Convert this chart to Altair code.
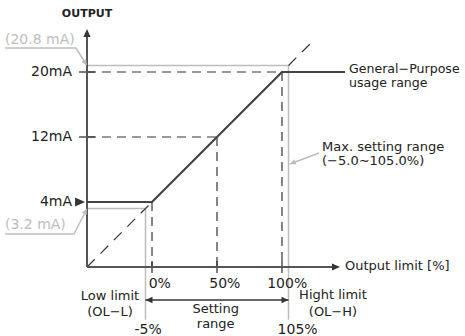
import altair as alt
import pandas as pd

# Schematic scales: horizontal in % of the output-limit setting, vertical in mA.
X_DOMAIN = [-116.923, 240.769]
Y_DOMAIN = [-12.492, 28.862]

ORIGIN_PCT = -50
ORIGIN_MA = -4
X_AXIS_END = 144.6
Y_AXIS_END = 25.3

# Output characteristic (general-purpose usage range)
curve_pct = [-50, 0, 100, 148.5]
curve_ma = [4, 4, 20, 20]

# Guide points on the characteristic
guide_pct = [0, 50, 100]
guide_ma = [4, 12, 20]
tick_ma = [12, 20]

# Proportional reference line through the origin
ref_pct = [-50, 121.5]
ref_ma = [-4, 23.44]

# Max. setting range limits
limit_pct = [-5, 105]
limit_ma = [3.2, 20.8]
limit_floor = -10.5
setting_arrow_ma = -8.06

DARK = "#353535"
GRAY = "#bdbdbd"
TEXT = "#222222"
FONT = "DejaVu Sans"

x_enc = dict(scale=alt.Scale(domain=X_DOMAIN, nice=False, zero=False), axis=None)
y_enc = dict(scale=alt.Scale(domain=Y_DOMAIN, nice=False, zero=False), axis=None)


def X(field="x"):
    return alt.X(f"{field}:Q", **x_enc)


def Y(field="y"):
    return alt.Y(f"{field}:Q", **y_enc)


# ---- line segments -------------------------------------------------------
axes_df = pd.DataFrame({
    "x": [ORIGIN_PCT, ORIGIN_PCT], "y": [ORIGIN_MA, ORIGIN_MA],
    "x2": [X_AXIS_END - 4, ORIGIN_PCT], "y2": [ORIGIN_MA, Y_AXIS_END - 0.6],
})

dash_rows = []
for p, m in zip(guide_pct[1:], guide_ma[1:]):
    dash_rows.append({"x": ORIGIN_PCT, "y": m, "x2": p, "y2": m})
for p, m in zip(guide_pct, guide_ma):
    dash_rows.append({"x": p, "y": m, "x2": p, "y2": ORIGIN_MA})
dash_df = pd.DataFrame(dash_rows)

tick_rows = [{"x": ORIGIN_PCT - 6.2, "y": m, "x2": ORIGIN_PCT + 6.2, "y2": m} for m in tick_ma]
tick_rows += [{"x": p, "y": ORIGIN_MA + 0.74, "x2": p, "y2": ORIGIN_MA - 0.74} for p in guide_pct]
tick_df = pd.DataFrame(tick_rows)

ref_df = pd.DataFrame({"x": [ref_pct[0]], "y": [ref_ma[0]], "x2": [ref_pct[1]], "y2": [ref_ma[1]]})

curve_df = pd.DataFrame({"x": curve_pct, "y": curve_ma, "o": range(len(curve_pct))})

gray_rows = [
    # upper / lower limit frames
    ("hi", 0, ORIGIN_PCT, limit_ma[1]), ("hi", 1, limit_pct[1], limit_ma[1]), ("hi", 2, limit_pct[1], limit_floor),
    ("lo", 0, ORIGIN_PCT, limit_ma[0]), ("lo", 1, limit_pct[0], limit_ma[0]), ("lo", 2, limit_pct[0], limit_floor),
    # leaders for the limit values
    ("l20", 0, -113.1, 22.95), ("l20", 1, -58.5, 22.95), ("l20", 2, ORIGIN_PCT, limit_ma[1]),
    ("l3", 0, -113.1, 0.06), ("l3", 1, -60.0, 0.06), ("l3", 2, ORIGIN_PCT, limit_ma[0]),
    ("lmax", 0, 128.5, 10.03), ("lmax", 1, 106.0, 8.68),
]
gray_df = pd.DataFrame(gray_rows, columns=["g", "o", "x", "y"])

span_df = pd.DataFrame({"x": [limit_pct[0]], "x2": [limit_pct[1]], "y": [setting_arrow_ma]})

# ---- arrowheads (tip at the point, pointing up before rotation) -------------
HEAD = "M0,0L-0.45,1L0.45,1Z"
heads_df = pd.DataFrame([
    {"x": ORIGIN_PCT, "y": Y_AXIS_END, "a": 0, "s": 256, "c": DARK},
    {"x": X_AXIS_END, "y": ORIGIN_MA, "a": 90, "s": 256, "c": DARK},
    {"x": -51.5, "y": 4, "a": 90, "s": 400, "c": DARK},
    {"x": limit_pct[0], "y": setting_arrow_ma, "a": 270, "s": 196, "c": DARK},
    {"x": limit_pct[1], "y": setting_arrow_ma, "a": 90, "s": 196, "c": DARK},
    {"x": ORIGIN_PCT, "y": limit_ma[1], "a": 147.8, "s": 144, "c": GRAY},
    {"x": ORIGIN_PCT, "y": limit_ma[0], "a": 27.0, "s": 144, "c": GRAY},
    {"x": 106.0, "y": 8.68, "a": 249.4, "s": 144, "c": GRAY},
])

# ---- labels ---------------------------------------------------------------
labels = [
    # text, x, y, align, size, color
    ("0%", 6, -6.09, "center", 14, TEXT),
    ("50%", 56, -6.09, "center", 14, TEXT),
    ("100%", 104, -6.09, "center", 14, TEXT),
    ("-5%", -3, -11.75, "center", 14, TEXT),
    ("105%", 112, -11.75, "center", 14, TEXT),
    ("Low limit", -32.3, -7.6, "center", 13, TEXT),
    ("(OL−L)", -32.3, -9.54, "center", 13, TEXT),
    ("Hight limit", 139.2, -7.45, "center", 13, TEXT),
    ("(OL−H)", 139.2, -9.54, "center", 13, TEXT),
    ("Setting", 49, -9.15, "center", 13, TEXT),
    ("range", 49, -11.0, "center", 13, TEXT),
    ("20mA", -61.5, 20, "right", 14, TEXT),
    ("12mA", -61.5, 12, "right", 14, TEXT),
    ("4mA", -61.5, 4, "right", 14, TEXT),
    ("Output limit [%]", 148.5, -3.88, "left", 13, TEXT),
    ("General−Purpose", 151.5, 20.37, "left", 12.6, TEXT),
    ("usage range", 151.5, 18.6, "left", 12.6, TEXT),
    ("Max. setting range", 130.8, 10.77, "left", 13, TEXT),
    ("(−5.0∼105.0%)", 130.8, 9.05, "left", 13, TEXT),
    ("(20.8 mA)", -113.1, 24.0, "left", 14, GRAY),
    ("(3.2 mA)", -113.1, 1.23, "left", 14, GRAY),
]
labels_df = pd.DataFrame(labels, columns=["t", "x", "y", "align", "size", "color"])
title_df = pd.DataFrame({"t": ["OUTPUT"], "x": [ORIGIN_PCT], "y": [27.14]})


def rules(df, **mark):
    return alt.Chart(df).mark_rule(**mark).encode(
        x=X(), y=Y(), x2="x2:Q", y2="y2:Q"
    )


gray_lines = alt.Chart(gray_df).mark_line(color=GRAY, strokeWidth=1.5).encode(
    x=X(), y=Y(), detail="g:N", order="o:Q"
)
ref_line = rules(ref_df, color=DARK, strokeWidth=1.2, strokeDash=[11, 8])
dash_lines = rules(dash_df, color=DARK, strokeWidth=1.2, strokeDash=[9, 6])
ticks = rules(tick_df, color=DARK, strokeWidth=1.3)
axes = rules(axes_df, color="#555555", strokeWidth=2)
curve = alt.Chart(curve_df).mark_line(color="#444444", strokeWidth=2.2).encode(
    x=X(), y=Y(), order="o:Q"
)
span = alt.Chart(span_df).mark_rule(color=DARK, strokeWidth=1.5).encode(
    x=X(), x2="x2:Q", y=Y()
)
heads = alt.Chart(heads_df).mark_point(shape=HEAD, filled=True, opacity=1).encode(
    x=X(), y=Y(),
    angle=alt.Angle("a:Q", scale=None),
    size=alt.Size("s:Q", scale=None),
    color=alt.Color("c:N", scale=None),
)


def text_layer(align):
    df = labels_df[labels_df["align"] == align]
    return alt.Chart(df).mark_text(align=align, baseline="middle", font=FONT).encode(
        x=X(), y=Y(), text="t:N",
        size=alt.Size("size:Q", scale=None),
        color=alt.Color("color:N", scale=None),
    )


title = alt.Chart(title_df).mark_text(
    align="center", baseline="middle", font=FONT, fontSize=11, fontWeight="bold", color=TEXT
).encode(x=X(), y=Y(), text="t:N")

chart = alt.layer(
    gray_lines, ref_line, dash_lines, ticks, axes, curve, span, heads,
    text_layer("center"), text_layer("right"), text_layer("left"), title,
).properties(
    width=465, height=336, padding=0, autosize=alt.AutoSizeParams(type="none"),
    background="white",
).configure_view(stroke=None)

chart.save("out.html", embed_options={"renderer": "svg", "actions": False})
